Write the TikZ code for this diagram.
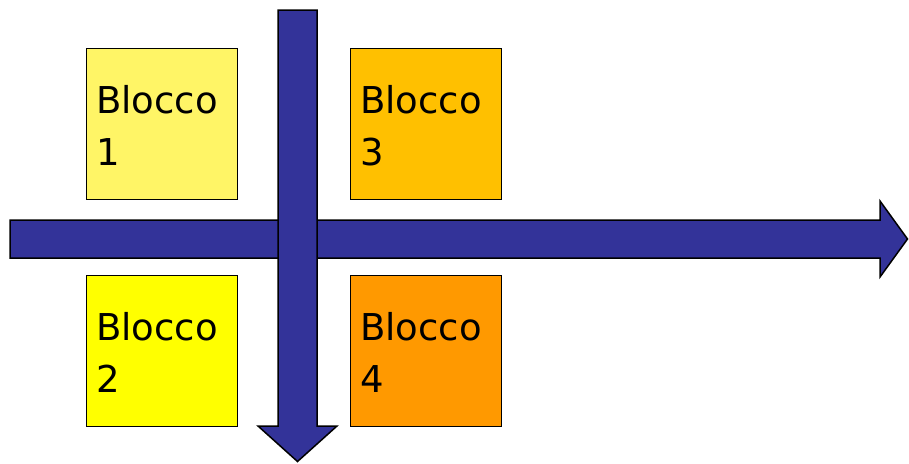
\documentclass[tikz,border=0pt]{standalone}
\usepackage{fontspec}
\setmainfont{DejaVu Sans}
\definecolor{arrowblue}{HTML}{333399}
\definecolor{yellowA}{HTML}{FFF566}
\definecolor{yellowB}{HTML}{FFFF00}
\definecolor{orangeA}{HTML}{FFC000}
\definecolor{orangeB}{HTML}{FF9900}
\begin{document}
\begin{tikzpicture}[x=1pt,y=-1pt,
  blockbox/.style={draw=black,line width=1pt,minimum width=151pt,minimum height=151pt,inner sep=0pt,anchor=north west},
  blocktext/.style={anchor=base west,inner sep=0pt,font=\fontsize{37}{44}\selectfont},
  bigarrow/.style={draw=black,line width=1.5pt,fill=arrowblue,line join=miter}]
\useasboundingbox (0,0) rectangle (909,463);
\node[blockbox,fill=yellowA] (b1) at (86,48) {};
\node[blockbox,fill=yellowB] (b2) at (86,275) {};
\node[blockbox,fill=orangeA] (b3) at (350,48) {};
\node[blockbox,fill=orangeB] (b4) at (350,275) {};
\node[blocktext] (t1a) at (96,113) {Blocco};
\node[blocktext] (t1b) at (96,165) {1};
\node[blocktext] (t2a) at (96,340) {Blocco};
\node[blocktext] (t2b) at (96,392) {2};
\node[blocktext] (t3a) at (360,113) {Blocco};
\node[blocktext] (t3b) at (360,165) {3};
\node[blocktext] (t4a) at (360,340) {Blocco};
\node[blocktext] (t4b) at (360,392) {4};
\draw[bigarrow] (10,220) -- (880,220) -- (880,201) -- (907.5,239) -- (880,277) -- (880,258) -- (10,258) -- cycle;
\draw[bigarrow] (278,10) -- (317,10) -- (317,426) -- (337,426) -- (297.5,461.5) -- (258,426) -- (278,426) -- cycle;
\end{tikzpicture}
\end{document}
